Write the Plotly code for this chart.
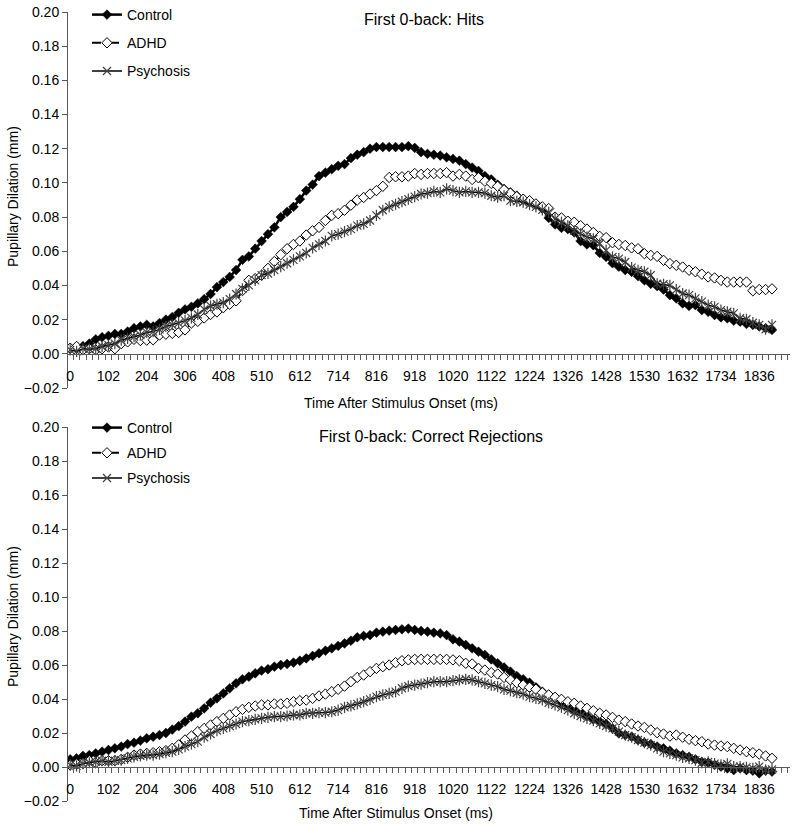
import plotly.graph_objects as go

# ---------------- data ----------------
time_ms = [17 * i for i in range(111)]
tick_vals = [0, 102, 204, 306, 408, 510, 612, 714, 816, 918, 1020, 1122,
             1224, 1326, 1428, 1530, 1632, 1734, 1836]
tick_text = [str(v) for v in tick_vals]
y_ticks = [-0.02, 0.00, 0.02, 0.04, 0.06, 0.08, 0.10, 0.12, 0.14, 0.16, 0.18, 0.20]

hits_control = [
    0.003, 0.0035, 0.0045, 0.006, 0.0085, 0.0097, 0.0105, 0.0116, 0.0116, 0.013,
    0.015, 0.016, 0.017, 0.016, 0.018, 0.020, 0.0215, 0.024, 0.026, 0.0275,
    0.0295, 0.032, 0.035, 0.039, 0.042, 0.045, 0.049, 0.055, 0.057, 0.0615,
    0.066, 0.070, 0.074, 0.080, 0.083, 0.086, 0.0905, 0.0955, 0.099, 0.104,
    0.106, 0.108, 0.110, 0.111, 0.1145, 0.1165, 0.118, 0.120, 0.121, 0.121,
    0.121, 0.121, 0.121, 0.1215, 0.1205, 0.118, 0.117, 0.1165, 0.116, 0.115,
    0.114, 0.113, 0.111, 0.109, 0.107, 0.104, 0.102, 0.099, 0.0965, 0.0945,
    0.0925, 0.0905, 0.0887, 0.0873, 0.085, 0.0795, 0.0757, 0.0737, 0.073, 0.071,
    0.066, 0.064, 0.0635, 0.059, 0.0567, 0.053, 0.051, 0.049, 0.048, 0.0454,
    0.043, 0.041, 0.0396, 0.0376, 0.0343, 0.0324, 0.0295, 0.028, 0.0285, 0.0256,
    0.0246, 0.0227, 0.0213, 0.0208, 0.0194, 0.0188, 0.0175, 0.0169, 0.016, 0.015,
    0.014]
hits_adhd = [
    0.0033, 0.0043, 0.0023, 0.003, 0.0023, 0.003, 0.004, 0.003, 0.006, 0.007,
    0.0085, 0.0078, 0.008, 0.0082, 0.011, 0.0115, 0.012, 0.0125, 0.014, 0.018,
    0.019, 0.021, 0.023, 0.0245, 0.027, 0.029, 0.031, 0.037, 0.043, 0.044,
    0.046, 0.050, 0.054, 0.058, 0.0615, 0.064, 0.066, 0.0695, 0.072, 0.074,
    0.078, 0.081, 0.082, 0.084, 0.087, 0.090, 0.0915, 0.0935, 0.0955, 0.098,
    0.1032, 0.1036, 0.1036, 0.104, 0.1055, 0.105, 0.1055, 0.1055, 0.1055, 0.106,
    0.104, 0.105, 0.104, 0.102, 0.103, 0.101, 0.0997, 0.098, 0.096, 0.094,
    0.092, 0.0905, 0.0896, 0.0877, 0.086, 0.085, 0.080, 0.0795, 0.0776, 0.077,
    0.075, 0.073, 0.071, 0.0687, 0.068, 0.065, 0.064, 0.0634, 0.062, 0.0615,
    0.0586, 0.0576, 0.057, 0.0547, 0.0528, 0.0518, 0.0508, 0.0489, 0.048, 0.0466,
    0.045, 0.0444, 0.043, 0.042, 0.042, 0.042, 0.042, 0.0369, 0.0376, 0.0376,
    0.038]
hits_psychosis = [
    0.0023, 0.0014, 0.003, 0.0027, 0.003, 0.0043, 0.005, 0.006, 0.008, 0.009,
    0.010, 0.011, 0.0125, 0.013, 0.0143, 0.016, 0.017, 0.018, 0.0194, 0.021,
    0.023, 0.026, 0.028, 0.029, 0.030, 0.032, 0.035, 0.038, 0.040, 0.043,
    0.046, 0.047, 0.049, 0.051, 0.053, 0.055, 0.057, 0.059, 0.062, 0.064,
    0.066, 0.069, 0.070, 0.0715, 0.073, 0.075, 0.076, 0.078, 0.081, 0.084,
    0.086, 0.0875, 0.089, 0.0905, 0.092, 0.0935, 0.094, 0.095, 0.0945, 0.0965,
    0.0955, 0.0945, 0.095, 0.0945, 0.0945, 0.094, 0.0925, 0.0916, 0.0925, 0.0896,
    0.0892, 0.0887, 0.0873, 0.086, 0.0842, 0.0828, 0.079, 0.077, 0.075, 0.072,
    0.0702, 0.0683, 0.0673, 0.0644, 0.0605, 0.0567, 0.0557, 0.0537, 0.0504, 0.0489,
    0.048, 0.046, 0.041, 0.0407, 0.040, 0.0376, 0.0353, 0.0343, 0.0324, 0.0305,
    0.0285, 0.0275, 0.0256, 0.0246, 0.0237, 0.0208, 0.0202, 0.0182, 0.0169, 0.0144,
    0.0169]

cr_control = [
    0.0045, 0.0051, 0.0065, 0.007, 0.008, 0.009, 0.010, 0.011, 0.012, 0.0135,
    0.0143, 0.0155, 0.0169, 0.0178, 0.0188, 0.020, 0.022, 0.024, 0.0267, 0.0296,
    0.0316, 0.0345, 0.0378, 0.0404, 0.0433, 0.0463, 0.0492, 0.0516, 0.0531, 0.0551,
    0.0567, 0.0575, 0.059, 0.060, 0.0606, 0.0614, 0.0625, 0.0639, 0.0653, 0.0669,
    0.0684, 0.0698, 0.0712, 0.0727, 0.0743, 0.0763, 0.0771, 0.0776, 0.079, 0.0796,
    0.0802, 0.0806, 0.081, 0.0814, 0.0806, 0.080, 0.0796, 0.079, 0.0786, 0.0776,
    0.0751, 0.0737, 0.0718, 0.0698, 0.0678, 0.0659, 0.0633, 0.061, 0.0586, 0.0561,
    0.0535, 0.0516, 0.0496, 0.0469, 0.0443, 0.0424, 0.0404, 0.0378, 0.0359, 0.0335,
    0.0325, 0.030, 0.028, 0.0267, 0.0253, 0.0227, 0.0198, 0.0188, 0.0178, 0.0159,
    0.0143, 0.0135, 0.012, 0.011, 0.0096, 0.008, 0.007, 0.006, 0.0045, 0.003,
    0.0025, 0.0012, 0.0002, -0.0008, -0.0018, -0.0008, -0.0018, -0.0022, -0.0037, -0.0022,
    -0.0027]
cr_adhd = [
    0.0012, 0.0018, 0.002, 0.0037, 0.0025, 0.0037, 0.0037, 0.0037, 0.0045, 0.0057,
    0.007, 0.0076, 0.008, 0.0084, 0.009, 0.0096, 0.011, 0.013, 0.0159, 0.0182,
    0.0208, 0.0227, 0.0247, 0.0267, 0.0286, 0.0306, 0.0325, 0.0339, 0.0351, 0.0359,
    0.0365, 0.0365, 0.0371, 0.0371, 0.0375, 0.0384, 0.039, 0.0394, 0.0404, 0.0418,
    0.0429, 0.0443, 0.0457, 0.0476, 0.0502, 0.0527, 0.0541, 0.0561, 0.058, 0.059,
    0.060, 0.0614, 0.0625, 0.063, 0.0633, 0.0633, 0.0633, 0.0633, 0.0633, 0.0633,
    0.063, 0.0625, 0.061, 0.0606, 0.058, 0.057, 0.0555, 0.0547, 0.0527, 0.0512,
    0.0496, 0.0482, 0.0469, 0.0457, 0.0437, 0.0424, 0.041, 0.0398, 0.0384, 0.0375,
    0.0359, 0.0345, 0.0331, 0.0316, 0.0306, 0.0292, 0.0276, 0.0267, 0.0253, 0.0241,
    0.0233, 0.0218, 0.0202, 0.0194, 0.0182, 0.0188, 0.0175, 0.0163, 0.0155, 0.0149,
    0.0135, 0.0129, 0.0124, 0.012, 0.011, 0.010, 0.009, 0.0084, 0.0076, 0.0065,
    0.0051]
cr_psychosis = [
    0.0012, 0.0006, 0.002, 0.0025, 0.003, 0.0037, 0.003, 0.0037, 0.004, 0.0051,
    0.006, 0.0065, 0.007, 0.007, 0.0076, 0.0084, 0.009, 0.0104, 0.012, 0.0135,
    0.0149, 0.0175, 0.0194, 0.0214, 0.0227, 0.0241, 0.0253, 0.0267, 0.0273, 0.028,
    0.0286, 0.0292, 0.0296, 0.0296, 0.030, 0.0306, 0.0306, 0.0316, 0.0316, 0.032,
    0.032, 0.0325, 0.0335, 0.0351, 0.0359, 0.0371, 0.0384, 0.0398, 0.0414, 0.0424,
    0.0433, 0.0443, 0.0463, 0.0476, 0.0482, 0.0488, 0.0496, 0.0502, 0.0502, 0.0502,
    0.0508, 0.0512, 0.0516, 0.0512, 0.0502, 0.0492, 0.0482, 0.0473, 0.0457, 0.0449,
    0.0437, 0.0429, 0.0414, 0.0404, 0.0394, 0.0378, 0.0365, 0.0351, 0.0335, 0.0316,
    0.030, 0.0286, 0.0273, 0.0257, 0.0241, 0.0227, 0.0208, 0.0188, 0.0175, 0.0159,
    0.0143, 0.0129, 0.011, 0.009, 0.008, 0.007, 0.0057, 0.0051, 0.004, 0.0025,
    0.003, 0.002, 0.0012, 0.0018, 0.0002, 0.0002, -0.0002, -0.0008, 0.0002, -0.0018,
    -0.0014]

panels = [
    ("First 0-back: Hits", hits_control, hits_adhd, hits_psychosis),
    ("First 0-back: Correct Rejections", cr_control, cr_adhd, cr_psychosis),
]

# ---------------- layout geometry ----------------
W, H = 800, 824


def fx(px):
    return px / W


def fy(py):
    return 1 - py / H


FONT = "Liberation Sans, Arial, sans-serif"
AX = "#595959"
PSY = "#404040"
x_dom = [fx(67), fx(790)]
y_doms = [[fy(388), fy(12)], [fy(801), fy(427)]]
X_RANGE = [-8.5, 1918]
Y_RANGE = [-0.02 - 1e-9, 0.20 + 1e-9]

fig = go.Figure()
layout = dict(
    width=W, height=H, margin=dict(l=0, r=0, t=0, b=0, autoexpand=False),
    paper_bgcolor="white", plot_bgcolor="white",
    font=dict(family=FONT, size=14, color="black"),
    showlegend=True, annotations=[],
)

title_pos = [(424, 20), (431, 436)]
xtitle_pos = [(401, 403), (396, 813)]
ytitle_pos = [(13, 197), (13, 617)]
legend_top = [-1, 412]
legend_gap = [7, 4]

for k, (title, ctrl, adhd, psy) in enumerate(panels):
    n = "" if k == 0 else str(k + 1)
    xa, ya = "x" + n, "y" + n
    lg = "legend" + n
    dom = y_doms[k]
    zero_frac = dom[0] + (0 - Y_RANGE[0]) / (Y_RANGE[1] - Y_RANGE[0]) * (dom[1] - dom[0])

    fig.add_trace(go.Scatter(
        x=time_ms, y=ctrl, name="Control", mode="lines+markers",
        line=dict(color="black", width=2.5),
        marker=dict(symbol="diamond", size=7.5, color="black",
                    line=dict(color="black", width=0.5)),
        xaxis=xa, yaxis=ya, legend=lg, legendgroup=f"c{k}"))
    fig.add_trace(go.Scatter(
        x=time_ms, y=adhd, name="ADHD", mode="lines+markers",
        line=dict(color="black", width=2, dash="dash"),
        marker=dict(symbol="diamond", size=8, color="white",
                    line=dict(color="black", width=1)),
        xaxis=xa, yaxis=ya, legend=lg, legendgroup=f"a{k}"))
    fig.add_trace(go.Scatter(
        x=time_ms, y=psy, name="Psychosis", mode="lines+markers",
        line=dict(color="black", width=1.5),
        marker=dict(symbol="x-thin-open", size=8, color=PSY,
                    line=dict(color=PSY, width=1.2)),
        xaxis=xa, yaxis=ya, legend=lg, legendgroup=f"p{k}"))
    fig.add_trace(go.Scatter(
        x=time_ms, y=psy, mode="markers", showlegend=False, hoverinfo="skip",
        marker=dict(symbol="line-ns-open", size=8, color=PSY,
                    line=dict(color=PSY, width=1.2)),
        xaxis=xa, yaxis=ya, legendgroup=f"p{k}"))

    layout["xaxis" + n] = dict(
        domain=x_dom, range=X_RANGE, anchor="free", position=zero_frac,
        showline=True, linecolor=AX, linewidth=1,
        tickmode="array", tickvals=tick_vals, ticktext=tick_text,
        ticks="outside", ticklen=5, tickcolor="rgba(0,0,0,0)",
        ticklabelstandoff=4, ticklabeloverflow="allow",
        minor=dict(ticks="outside", ticklen=5, tickcolor=AX, tickwidth=1,
                   tickmode="linear", tick0=-8.5, dtick=17, showgrid=False),
        showgrid=False, zeroline=False, automargin=False,
        tickfont=dict(size=14, family=FONT))
    layout["yaxis" + n] = dict(
        domain=dom, range=Y_RANGE, anchor="free", position=x_dom[0],
        showline=True, linecolor=AX, linewidth=1,
        tickmode="array", tickvals=y_ticks, tickformat=".2f",
        ticks="outside", ticklen=5, tickcolor=AX, ticklabeloverflow="allow",
        showgrid=False, zeroline=False, automargin=False,
        tickfont=dict(size=14, family=FONT))
    layout[lg] = dict(
        x=fx(87), y=fy(legend_top[k]), xanchor="left", yanchor="top",
        bgcolor="rgba(0,0,0,0)", font=dict(size=14, family=FONT),
        tracegroupgap=legend_gap[k], traceorder="grouped", itemwidth=30)

    tx, ty = title_pos[k]
    layout["annotations"].append(dict(
        text=title, x=fx(tx), y=fy(ty), xref="paper", yref="paper",
        xanchor="center", yanchor="middle",
        showarrow=False, font=dict(size=16, family=FONT)))
    tx, ty = xtitle_pos[k]
    layout["annotations"].append(dict(
        text="Time After Stimulus Onset (ms)", x=fx(tx), y=fy(ty),
        xanchor="center", yanchor="middle",
        xref="paper", yref="paper", showarrow=False, font=dict(size=14, family=FONT)))
    tx, ty = ytitle_pos[k]
    layout["annotations"].append(dict(
        text="Pupillary Dilation (mm)", x=fx(tx), y=fy(ty), textangle=-90,
        xanchor="center", yanchor="middle",
        xref="paper", yref="paper", showarrow=False, font=dict(size=14, family=FONT)))

fig.update_layout(**layout)
fig.write_html("out.html", config={"displayModeBar": False},
               post_script="document.body.style.margin='0px';")
